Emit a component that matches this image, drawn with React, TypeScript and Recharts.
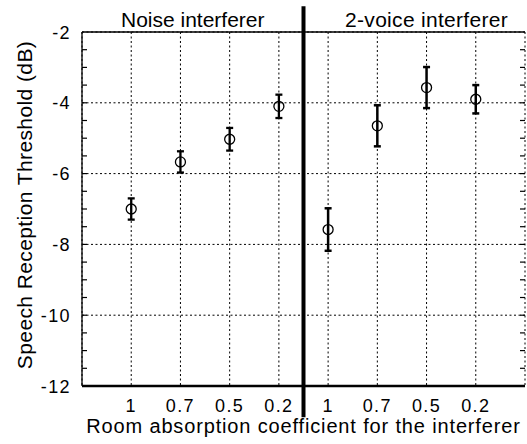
import React from "react";
import {
  ComposedChart,
  Scatter,
  ErrorBar,
  XAxis,
  YAxis,
  CartesianGrid,
  ReferenceLine,
  ReferenceArea,
} from "recharts";

// absorption coefficients, same order in both panels
const categories = ["1", "0.7", "0.5", "0.2"];

// SRT in dB
const noiseSRT = [-7.0, -5.67, -5.03, -4.1];
const noiseErr = [0.3, 0.3, 0.32, 0.33];
const voiceSRT = [-7.58, -4.65, -3.57, -3.9];
const voiceErr = [0.6, 0.58, 0.58, 0.4];

const panelTitles = ["Noise interferer", "2-voice interferer"];

const xTicks = [1, 2, 3, 4, 5, 6, 7, 8];
const xMinorTicks = [0.5, 1, 1.5, 2, 2.5, 3, 3.5, 4, 4.5, 5, 5.5, 6, 6.5, 7, 7.5, 8, 8.5];
const yTicks = [-12, -10, -8, -6, -4, -2];
const yMinorTicks = [
  -11.5, -11, -10.5, -10, -9.5, -9, -8.5, -8, -7.5, -7, -6.5, -6, -5.5, -5,
  -4.5, -4, -3.5, -3, -2.5,
];
const xTickLabels = [...categories, ...categories];

const FONT = "'Liberation Sans', Arial, Helvetica, sans-serif";
const DIVIDER = 4.5;

const noiseData = noiseSRT.map((y, i) => ({ x: i + 1, y, err: noiseErr[i] }));
const voiceData = voiceSRT.map((y, i) => ({ x: i + 5, y, err: voiceErr[i] }));

function OpenCircle(props: any) {
  const { cx, cy } = props;
  return <circle cx={cx} cy={cy} r={5} fill="none" stroke="#000" strokeWidth={1.3} />;
}

function YTick({ x, y, payload }: any) {
  return (
    <text x={x} y={y} dy={6.5} textAnchor="end" fontSize={18} letterSpacing={1.4} fill="#000" fontFamily={FONT}>
      {String(payload.value)}
    </text>
  );
}

function XTick({ x, y, payload }: any) {
  return (
    <text x={x} y={y} dy={18} textAnchor="middle" fontSize={18} letterSpacing={1.4} fill="#000" fontFamily={FONT}>
      {xTickLabels[payload.value - 1]}
    </text>
  );
}

// tick marks only, no text
const noLabel = () => <g />;
const minorLine = { stroke: "#000", strokeWidth: 1.2 };

export default function App() {
  return (
    <div style={{ position: "absolute", left: 0, top: 0, background: "#fff" }}>
      <ComposedChart
        width={527}
        height={444}
        margin={{ top: 32, right: 2, bottom: 0, left: 0 }}
        style={{ fontFamily: FONT }}
      >
        <CartesianGrid stroke="#000" strokeDasharray="2 2.5" strokeWidth={1} />

        <XAxis
          dataKey="x"
          type="number"
          domain={[0, 9]}
          ticks={xTicks}
          height={58}
          axisLine={false}
          tickLine={false}
          tickMargin={2}
          tick={<XTick />}
          label={{
            content: ({ viewBox }: any) => (
              <text
                x={viewBox.x + viewBox.width / 2}
                y={viewBox.y + viewBox.height - 11}
                textAnchor="middle"
                fontSize={20}
                letterSpacing={0.85}
                fill="#000"
                fontFamily={FONT}
              >
                Room absorption coefficient for the interferer
              </text>
            ),
          }}
        />
        <XAxis
          xAxisId="bottom-minor"
          type="number"
          domain={[0, 9]}
          allowDataOverflow
          ticks={xMinorTicks}
          interval={0}
          orientation="bottom"
          mirror
          tick={noLabel}
          tickSize={5}
          tickLine={minorLine}
          axisLine={{ stroke: "#000", strokeWidth: 2.5 }}
        />
        <XAxis
          xAxisId="top"
          type="number"
          domain={[0, 9]}
          allowDataOverflow
          ticks={xMinorTicks}
          interval={0}
          orientation="top"
          mirror
          tick={noLabel}
          tickSize={5}
          tickLine={minorLine}
          axisLine={{ stroke: "#000", strokeWidth: 1.3 }}
        />

        <YAxis
          type="number"
          domain={[-12, -2]}
          ticks={yTicks}
          width={82}
          axisLine={false}
          tickLine={false}
          tickMargin={5}
          tick={<YTick />}
          label={{
            content: ({ viewBox }: any) => {
              const cx = 32;
              const cy = viewBox.y + viewBox.height / 2 - 4;
              return (
                <text
                  x={cx}
                  y={cy}
                  transform={`rotate(-90 ${cx} ${cy})`}
                  textAnchor="middle"
                  fontSize={21}
                  letterSpacing={0.4}
                  fill="#000"
                  fontFamily={FONT}
                >
                  Speech Reception Threshold (dB)
                </text>
              );
            },
          }}
        />
        <YAxis
          yAxisId="left-minor"
          type="number"
          domain={[-12, -2]}
          allowDataOverflow
          ticks={yMinorTicks}
          interval={0}
          orientation="left"
          mirror
          tick={noLabel}
          tickSize={5}
          tickLine={minorLine}
          axisLine={{ stroke: "#000", strokeWidth: 1.3 }}
        />
        <YAxis
          yAxisId="right-minor"
          type="number"
          domain={[-12, -2]}
          allowDataOverflow
          ticks={yMinorTicks}
          interval={0}
          orientation="right"
          mirror
          tick={noLabel}
          tickSize={5}
          tickLine={minorLine}
          axisLine={false}
        />

        <ReferenceArea
          x1={0}
          x2={DIVIDER}
          fill="none"
          stroke="none"
          ifOverflow="visible"
          label={{ value: panelTitles[0], position: "top", offset: 5, fontSize: 21, fill: "#000", fontFamily: FONT }}
        />
        <ReferenceArea
          x1={5}
          x2={9}
          fill="none"
          stroke="none"
          ifOverflow="visible"
          label={{ value: panelTitles[1], position: "top", offset: 5, fontSize: 21, fill: "#000", fontFamily: FONT, letterSpacing: 0.3 }}
        />

        <ReferenceLine
          segment={[
            { x: DIVIDER, y: -1.27 },
            { x: DIVIDER, y: -12.88 },
          ]}
          stroke="#000"
          strokeWidth={4}
          ifOverflow="visible"
        />

        <Scatter name="Noise" data={noiseData} dataKey="y" shape={<OpenCircle />} isAnimationActive={false}>
          <ErrorBar dataKey="err" direction="y" width={3.5} stroke="#000" strokeWidth={2.3} isAnimationActive={false} />
        </Scatter>
        <Scatter name="2-voice" data={voiceData} dataKey="y" shape={<OpenCircle />} isAnimationActive={false}>
          <ErrorBar dataKey="err" direction="y" width={3.5} stroke="#000" strokeWidth={2.5} isAnimationActive={false} />
        </Scatter>
      </ComposedChart>
    </div>
  );
}
